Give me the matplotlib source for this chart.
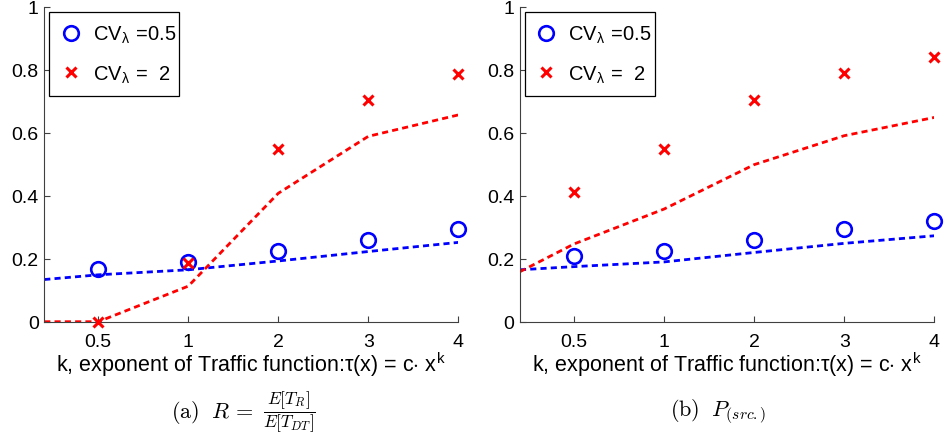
import matplotlib.pyplot as plt
from matplotlib.offsetbox import AnchoredOffsetbox, HPacker, TextArea
from matplotlib.ticker import FuncFormatter

plt.rcParams['font.family'] = ['Liberation Sans', 'DejaVu Sans']
plt.rcParams['mathtext.fontset'] = 'cm'

# exponent k of the traffic function, drawn at evenly spaced positions
k_labels = ['0.5', '1', '2', '3', '4']
k_pos = [1, 2, 3, 4, 5]
# the model curves start at the left edge of the axis
curve_pos = [0.4, 1, 2, 3, 4, 5]

# (a) R = E[T_R] / E[T_DT]
r_sim_low = [0.168, 0.189, 0.226, 0.260, 0.293]
r_sim_high = [0.0, 0.186, 0.549, 0.705, 0.788]
r_model_low = [0.134, 0.149, 0.165, 0.193, 0.223, 0.252]
r_model_high = [0.0, 0.0, 0.113, 0.408, 0.589, 0.657]

# (b) P_(src.)
p_sim_low = [0.208, 0.226, 0.260, 0.295, 0.321]
p_sim_high = [0.413, 0.549, 0.706, 0.790, 0.840]
p_model_low = [0.165, 0.175, 0.190, 0.220, 0.249, 0.273]
p_model_high = [0.159, 0.247, 0.358, 0.499, 0.591, 0.649]

legend_labels = [r'CV$_\mathregular{λ}$ =0.5', r'CV$_\mathregular{λ}$ =  2']
# sub-captions: leading text and an optional fraction set a bit smaller
captions = [(r'$\mathrm{(a)}\ \;R\, =$', r'$\dfrac{E[T_R]}{E[T_{DT}]}$'),
            (r'$\mathrm{(b)}\ \;P_{(src.)}$', None)]
xlabel = r'k, exponent of Traffic function:τ(x) = c$\cdot$ x$^\mathregular{k}$'

fig = plt.figure(figsize=(9.48, 4.39), dpi=100)
panels = [
    ([0.0467, 0.2649, 0.4367, 0.7169], r_sim_low, r_sim_high, r_model_low, r_model_high, 0.257),
    ([0.5485, 0.2649, 0.4370, 0.7169], p_sim_low, p_sim_high, p_model_low, p_model_high, 0.758),
]

for i, (rect, sim_lo, sim_hi, mod_lo, mod_hi, cx) in enumerate(panels):
    ax = fig.add_axes(rect)
    ax.plot(curve_pos, mod_lo, color='blue', ls='--', lw=2, dashes=(2.2, 1.5))
    ax.plot(curve_pos, mod_hi, color='red', ls='--', lw=2, dashes=(2.2, 1.5))
    ax.plot(k_pos, sim_lo, 'o', ls='none', mfc='none', mec='blue', ms=10.5, mew=1.9,
            label=legend_labels[0], clip_on=False, zorder=3)
    ax.plot(k_pos, sim_hi, 'x', ls='none', color='red', ms=7, mew=2.2,
            label=legend_labels[1], clip_on=False, zorder=3)

    ax.set_xlim(curve_pos[0], k_pos[-1])
    ax.set_ylim(0, 1)
    ax.set_xticks(k_pos)
    ax.set_xticklabels(k_labels)
    ax.set_yticks([0, 0.2, 0.4, 0.6, 0.8, 1])
    ax.yaxis.set_major_formatter(FuncFormatter(lambda v, p: f'{v:g}'))
    ax.tick_params(direction='in', length=4, width=0.8, labelsize=14,
                   color='#404040', pad=4)
    ax.tick_params(axis='x', pad=8)
    for side in ['top', 'right']:
        ax.spines[side].set_visible(False)
    for side in ['left', 'bottom']:
        ax.spines[side].set_color('#404040')
        ax.spines[side].set_linewidth(0.8)

    ax.set_xlabel(xlabel, fontsize=15.5, labelpad=0)
    leg = ax.legend(loc='upper left', bbox_to_anchor=(0.011, 0.5, 0.314, 0.484),
                    mode='expand', borderaxespad=0,
                    fontsize=14.5, fancybox=False, edgecolor='black', framealpha=1,
                    handlelength=1.0, handletextpad=0.6, labelspacing=0.9,
                    borderpad=0.58, numpoints=1)
    leg.get_frame().set_linewidth(0.9)

    lead, frac = captions[i]
    parts = [TextArea(lead, textprops=dict(fontsize=16))]
    if frac:
        parts.append(TextArea(frac, textprops=dict(fontsize=12.5)))
    caption = HPacker(children=parts, align='center', pad=0, sep=7)
    fig.add_artist(AnchoredOffsetbox(loc='center', child=caption, frameon=False,
                                     bbox_to_anchor=(cx, 0.0615),
                                     bbox_transform=fig.transFigure, borderpad=0))

fig.savefig('out.png', dpi=100)
